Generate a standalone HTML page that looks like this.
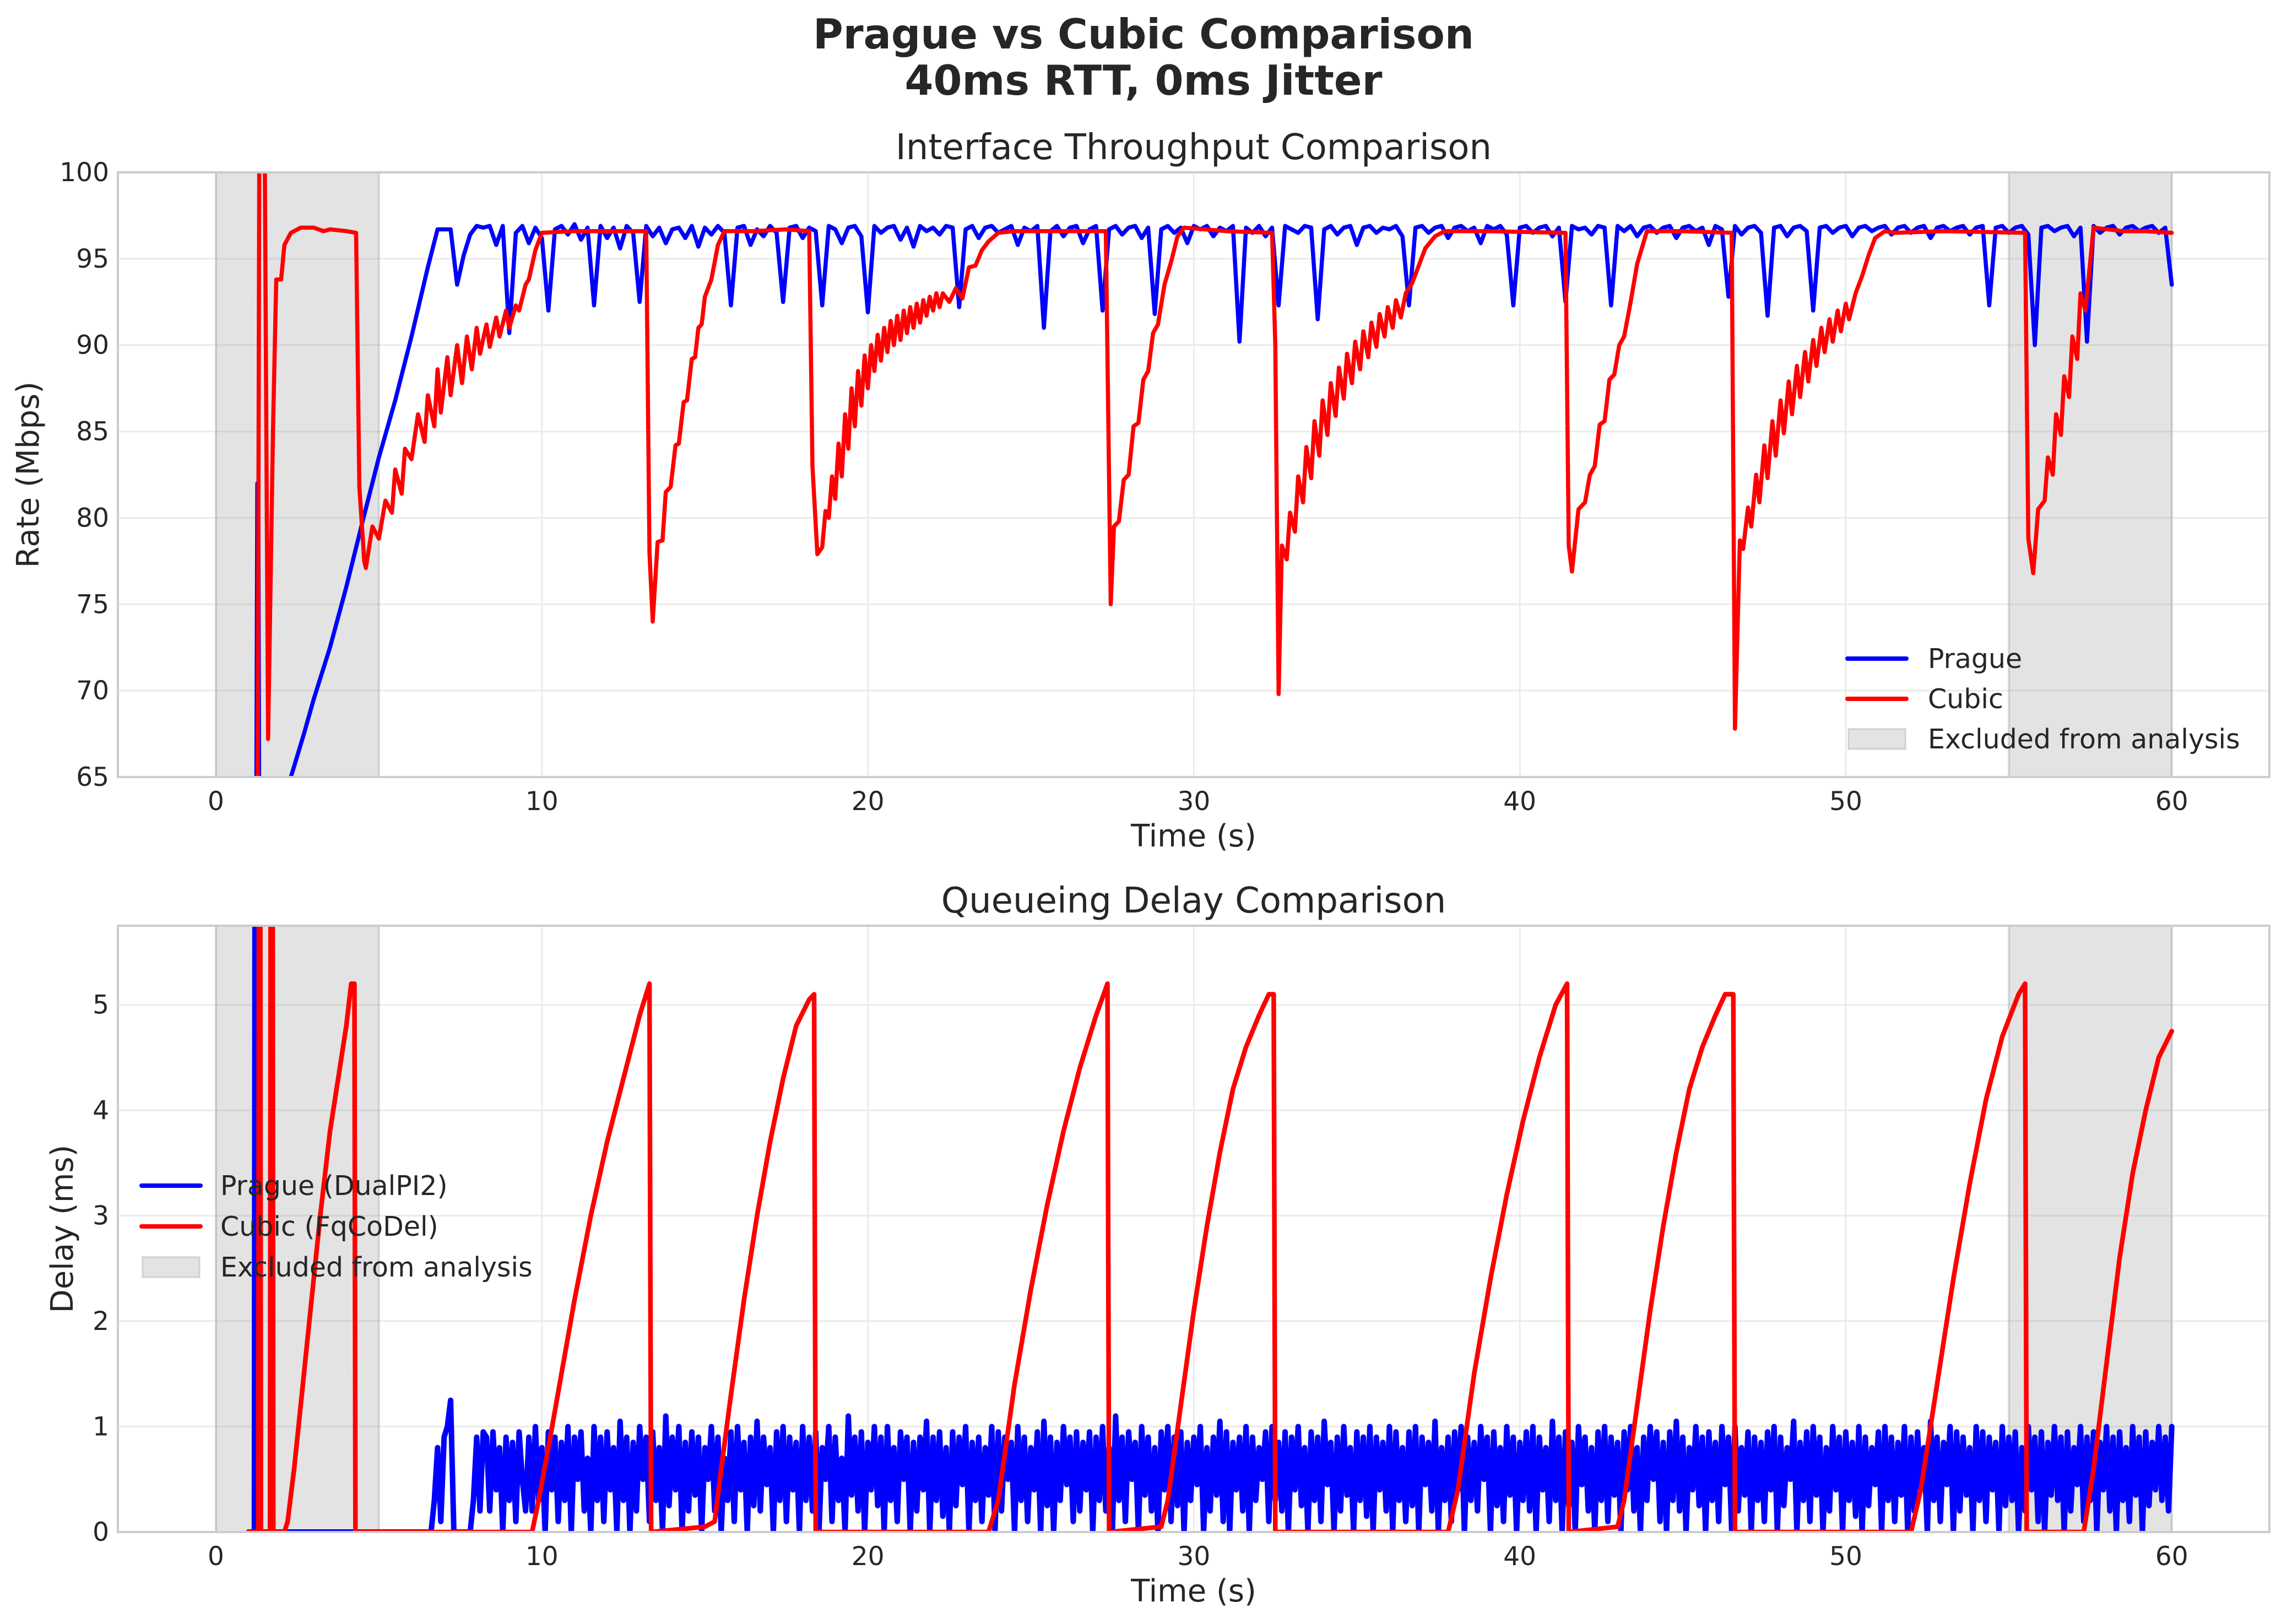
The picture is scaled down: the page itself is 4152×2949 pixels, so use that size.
<!DOCTYPE html>
<html><head><meta charset="utf-8"><title>Prague vs Cubic Comparison</title>
<style>
html,body{margin:0;padding:0;background:#fff;}
svg{display:block;font-family:"DejaVu Sans","Liberation Sans",sans-serif;}
</style></head>
<body>
<svg id="fig" width="4152" height="2949" viewBox="0 0 4152 2949" xmlns="http://www.w3.org/2000/svg">
<defs>
<clipPath id="clipTop"><rect x="214" y="313" width="3906" height="1098"/></clipPath>
<clipPath id="clipBot"><rect x="214" y="1681" width="3906" height="1101"/></clipPath>
</defs>
<text x="2076" y="88" text-anchor="middle" font-size="75" font-weight="bold" fill="#262626" textLength="1200" lengthAdjust="spacingAndGlyphs">Prague vs Cubic Comparison</text>
<text x="2076" y="172" text-anchor="middle" font-size="75" font-weight="bold" fill="#262626" textLength="867" lengthAdjust="spacingAndGlyphs">40ms RTT, 0ms Jitter</text>
<g id="top"></g>
<g id="bot"></g>
</svg>
<script>
// ---------- DATA ----------
const xTicks = [0,10,20,30,40,50,60];
const rateTicks = [65,70,75,80,85,90,95,100];
const delayTicks = [0,1,2,3,4,5];
const excludedStart = [0,55];
const excludedEnd = [5,60];

// Prague throughput: early ramp points
const pragueRampT = [1.2,1.27,1.3,1.36,2.3,2.7,3.0,3.5,4.0,4.5,5.0,5.5,6.0,6.5,6.8,7.0];
const pragueRampV = [40,82,82,40,65,67.5,69.5,72.5,76,79.8,83.5,86.8,90.5,94.5,96.7,96.7];
// Prague throughput sampled every 0.2s starting at 7.2s
const pragueRateStart = 7.2;
const pragueRateStep = 0.2;
const pragueRate = [
96.7,93.5,95.2,96.4,96.9, 96.8,96.9,95.8,96.9,90.7, 96.5,96.9,95.9,96.8,96.2, 92.0,96.7,96.9,96.4,97.0,
96.1,96.8,92.3,96.9,96.2, 96.8,95.6,96.9,96.5,92.5, 96.9,96.3,96.8,95.9,96.7, 96.8,96.2,96.9,95.7,96.8,
96.4,96.9,96.5,92.3,96.8, 96.9,95.8,96.7,96.3,96.9, 96.5,92.5,96.8,96.9,96.2, 96.8,96.6,92.3,96.9,96.7,
95.9,96.8,96.9,96.3,91.9, 96.9,96.5,96.8,96.9,96.1, 96.8,95.7,96.9,96.6,96.8, 96.4,96.9,96.8,92.2,96.7,
96.9,96.2,96.8,96.9,96.5, 96.7,96.9,95.8,96.8,96.6, 96.9,91.0,96.6,96.9,96.3, 96.8,96.9,95.9,96.7,96.9,
92.0,96.7,96.9,96.4,96.8, 96.9,96.2,96.8,91.8,96.7, 96.9,96.5,96.8,95.9,96.9, 96.7,96.9,96.3,96.8,96.6,
96.9,90.2,96.8,96.5,96.9, 96.3,96.8,92.3,96.9,96.7, 96.5,96.9,96.8,91.5,96.7, 96.9,96.4,96.8,96.9,95.8,
96.8,96.9,96.5,96.8,96.7, 96.9,96.3,92.3,96.8,96.9, 96.5,96.8,96.9,96.2,96.8, 96.9,96.6,96.8,95.9,96.9,
96.7,96.9,96.4,92.3,96.8, 96.9,96.5,96.8,96.9,96.3, 96.8,92.5,96.9,96.7,96.8, 96.4,96.9,96.8,92.3,96.9,
96.6,96.9,96.3,96.8,96.9, 96.5,96.8,96.9,96.2,96.8, 96.9,96.6,96.8,95.8,96.9, 96.7,92.8,96.9,96.4,96.8,
96.9,96.5,91.7,96.8,96.9, 96.3,96.8,96.9,96.6,92.0, 96.8,96.9,96.5,96.8,96.9, 96.3,96.8,96.9,96.6,96.8,
96.9,96.4,96.8,96.9,96.5, 96.8,96.9,96.2,96.8,96.9, 96.6,96.8,96.9,96.4,96.8, 96.9,92.3,96.8,96.9,96.5,
96.8,96.9,96.4,90.0,96.8, 96.9,96.6,96.8,96.9,96.3, 96.8,90.2,96.9,96.5,96.8, 96.9,96.4,96.8,96.9,96.6,
96.8,96.9,96.5,96.8,93.5];

// Cubic throughput (time, value)
const cubicRateT = [1.25,1.33,1.4,1.5,1.6,1.75,1.85,2.0,2.1,2.3,2.6,3.0,3.3,3.5,4.0,4.3,4.4,4.55,4.6,
4.8,5.0,5.2,5.4,5.5,5.7,5.8,6.0,6.2,6.4,6.5,6.7,6.8,6.9,7.1,7.2,7.4,7.55,7.7,7.85,8.0,8.1,8.3,8.4,8.6,8.7,8.9,9.0,9.2,9.3,9.5,9.6,9.8,10.0,
11,12,13.2,13.3,13.4,13.55,13.7,13.8,13.95,14.1,14.2,14.35,14.45,14.6,14.7,14.8,14.9,15.0,15.2,15.4,15.6,16.5,17.5,18.2,
18.3,18.45,18.6,18.7,18.8,18.9,19.0,19.1,19.2,19.3,19.4,19.5,19.6,19.7,19.8,19.9,20.0,20.1,20.2,20.3,20.4,20.5,20.6,20.7,20.8,20.9,21.0,21.1,21.2,21.3,21.4,21.5,21.6,21.7,21.8,21.9,22.0,22.1,22.2,22.3,22.5,22.7,22.9,23.1,23.3,23.5,23.7,24.0,24.5,
26,27.3,27.45,27.55,27.7,27.85,28.0,28.15,28.3,28.45,28.6,28.75,28.9,29.1,29.3,29.5,29.7,31,32.4,
32.5,32.6,32.7,32.85,32.95,33.1,33.2,33.35,33.45,33.6,33.7,33.85,33.95,34.1,34.2,34.35,34.45,34.6,34.7,34.85,34.95,35.1,35.2,35.35,35.45,35.6,35.7,35.85,35.95,36.1,36.2,36.35,36.5,36.7,36.9,37.1,37.4,37.7,
39,41.4,41.5,41.6,41.8,42.0,42.15,42.3,42.45,42.6,42.75,42.9,43.05,43.2,43.4,43.6,43.9,45,46.5,
46.6,46.75,46.85,47.0,47.1,47.25,47.35,47.5,47.6,47.75,47.85,48.0,48.1,48.25,48.35,48.5,48.6,48.75,48.85,49.0,49.1,49.25,49.35,49.5,49.6,49.75,49.85,50.0,50.1,50.3,50.5,50.7,50.9,51.2,51.5,
53,55.5,55.6,55.75,55.9,56.1,56.2,56.35,56.45,56.6,56.7,56.85,56.95,57.1,57.2,57.35,57.6,58.5,59.2,60];
const cubicRateV = [40,100.5,100.5,100.5,67.2,85,93.8,93.8,95.8,96.5,96.8,96.8,96.6,96.7,96.6,96.5,81.8,77.5,77.1,
79.5,78.8,81,80.3,82.8,81.4,84,83.4,86,84.4,87.1,85.3,88.6,86.1,89.3,87.1,90,87.8,90.5,88.6,91,89.5,91.2,89.9,91.6,90.5,92,91,92.3,92,93.5,93.8,95.5,96.5,
96.6,96.6,96.6,78,74,78.6,78.7,81.5,81.8,84.2,84.3,86.7,86.8,89.2,89.3,91,91.2,92.8,93.8,95.8,96.6,96.6,96.7,96.6,
83,77.9,78.3,80.4,80.0,82.4,81.1,84.3,82.4,86.0,84.0,87.5,85.3,88.5,86.5,89.4,87.5,90.0,88.5,90.6,89.1,91.0,89.6,91.4,90.0,91.7,90.3,92.0,90.7,92.2,91.0,92.4,91.3,92.6,91.7,92.8,92.0,93.0,92.2,93.0,92.5,93.3,92.7,94.5,94.6,95.5,96.0,96.5,96.6,
96.6,96.6,75.0,79.5,79.8,82.2,82.5,85.3,85.5,88.0,88.5,90.7,91.2,93.5,94.8,96.3,96.8,96.6,96.5,
90,69.8,78.4,77.6,80.3,79.2,82.4,80.9,84.1,82.3,85.6,83.6,86.8,84.8,87.8,85.9,88.7,86.9,89.5,87.8,90.2,88.6,90.8,89.3,91.3,89.9,91.8,90.5,92.2,91.0,92.6,91.6,93.0,93.6,94.6,95.6,96.3,96.6,
96.6,96.5,78.4,76.9,80.5,80.9,82.5,83.0,85.4,85.6,88.0,88.3,90.0,90.5,92.5,94.7,96.6,96.6,96.5,
67.8,78.7,78.2,80.6,79.5,82.5,80.9,84.2,82.3,85.6,83.6,86.8,84.9,87.9,86.0,88.8,87.0,89.6,87.9,90.3,88.8,91.0,89.6,91.5,90.2,92.0,90.8,92.4,91.5,93.0,94.0,95.2,96.2,96.6,96.5,
96.6,96.5,78.8,76.8,80.5,81.0,83.5,82.5,86.0,84.8,88.2,87.0,90.5,89.2,93.0,92.0,96.8,96.6,96.6,96.5];

// Prague delay sampled every 0.1s starting at 6.6s
const pragueDelayStart = 6.6;
const pragueDelayStep = 0.1;
const pragueDelay = [
0,0.3,0.8,0.1,0.9,1.0,1.25,0,0,0,
0,0,0,0.3,0.9,0.2,0.95,0.9,0.2,0.95,
0.4,0.8,0,0.9,0.3,0.85,0.1,0.95,0.5,0.2,
0.9,0.2,1.0,0.3,0.8,0,0.95,0.4,0.9,0.1,
0.85,0.3,1.0,0,0.9,0.5,0.95,0.2,0.7,0,
1.0,0.3,0.9,0.1,0.95,0.4,0.8,0,1.05,0.3,
0.9,0,0.85,0.2,1.0,0.5,0.9,0.1,0.95,0.3,
0.8,0,1.1,0.25,0.9,0.4,1.0,0,0.85,0.2,
0.95,0.35,0.9,0,0.8,0.5,1.0,0.2,0.9,0,
0.7,0.3,0.95,0.1,1.0,0.4,0.85,0,0.9,0.25,
1.05,0.2,0.9,0.45,0.8,0,0.95,0.3,1.0,0.1,
0.9,0.4,0.85,0,1.0,0.3,0.9,0.2,0.95,0,
0.8,0.5,1.0,0.1,0.9,0.3,0.7,0,1.1,0.35,
0.9,0.2,0.95,0,0.85,0.4,1.0,0.25,0.9,0,
1.0,0.3,0.8,0.1,0.95,0.5,0.9,0,0.85,0.2,
0.9,0.4,1.05,0,0.9,0.3,0.95,0.15,0.8,0,
0.95,0.25,0.9,0.45,1.0,0,0.85,0.3,0.9,0.1,
0.8,0.35,1.0,0,0.95,0.2,0.9,0.5,0.85,0,
1.0,0.3,0.9,0.1,0.8,0.4,0.95,0,1.05,0.25,
0.9,0,0.85,0.3,1.0,0.45,0.9,0.1,0.95,0.2,
0.85,0.4,0.95,0,0.9,0.3,1.0,0.2,0.8,0,
1.1,0.3,0.9,0.1,0.95,0.5,0.85,0,1.0,0.35,
0.9,0.2,0.8,0,0.95,0.4,1.0,0.1,0.9,0.25,
0.95,0,0.85,0.3,0.9,0.45,1.0,0,0.8,0.2,
0.9,0.35,1.05,0.1,0.95,0,0.85,0.4,0.9,0.2,
1.0,0,0.9,0.3,0.8,0.5,0.95,0.1,1.0,0.3,
0.85,0.2,0.95,0,0.9,0.4,1.0,0.25,0.8,0,
0.95,0.3,0.9,0.1,1.05,0.45,0.85,0,0.9,0.2,
1.0,0.35,0.8,0,0.95,0.3,0.9,0.15,1.0,0,
0.9,0.4,0.85,0.2,1.0,0,0.95,0.3,0.8,0.1,
0.95,0.25,1.0,0,0.9,0.45,0.85,0.2,1.05,0,
0.8,0.3,0.9,0.1,0.95,0.4,1.0,0,0.9,0.3,
0.85,0.2,1.0,0.5,0.9,0,0.95,0.25,0.8,0.1,
1.0,0.35,0.9,0,0.85,0.3,0.95,0.2,1.0,0,
0.9,0.4,0.8,0.1,1.05,0.3,0.9,0,0.95,0.25,
0.85,0,1.0,0.45,0.9,0.2,0.8,0,0.95,0.3,
1.0,0.1,0.9,0.35,0.85,0,0.95,0.4,1.0,0.2,
0.8,0,0.9,0.3,1.0,0.5,0.95,0.1,0.85,0,
0.95,0.3,1.05,0.2,0.9,0,0.8,0.4,1.0,0.25,
0.9,0,0.95,0.3,0.85,0.1,1.0,0.45,0.9,0,
1.0,0.2,0.8,0.35,0.95,0,0.9,0.3,0.85,0.1,
0.95,0.4,1.0,0,0.9,0.25,0.8,0.5,1.05,0,
0.85,0.3,0.95,0.1,1.0,0.35,0.9,0,0.8,0.2,
1.0,0.4,0.9,0,0.95,0.3,0.85,0.15,1.0,0,
0.9,0.25,0.8,0.45,0.95,0,1.0,0.3,0.9,0.1,
0.85,0.35,1.0,0,0.9,0.2,0.95,0.4,0.8,0,
1.05,0.3,0.9,0.1,0.85,0.45,1.0,0,0.95,0.2,
0.9,0.35,0.8,0,1.0,0.3,0.95,0.1,0.9,0.4,
0.85,0,1.0,0.25,0.9,0.3,0.95,0,0.8,0.2,
1.0,0.4,0.9,0.1,0.95,0,0.85,0.35,1.0,0.3,
0.9,0,0.95,0.2,0.8,0.45,1.0,0.1,0.9,0.3,
0.95,0,0.85,0.4,1.0,0.2,0.9,0,0.95,0.3,
0.8,0.1,1.0,0.35,0.9,0,0.95,0.25,0.85,0.4,
1.0,0.3,0.9,0.2,1.0];

// Cubic delay (time, value)
const cubicDelayT = [1.0,1.3,1.32,1.36,1.38,1.66,1.68,1.74,1.76,2.1,2.2,2.4,2.6,2.9,3.2,3.5,3.8,4.0,4.15,4.25,4.28,
9.7,9.9,10.2,10.6,11.0,11.5,12.0,12.5,13.0,13.3,13.35,15.0,15.3,15.5,15.8,16.2,16.6,17.0,17.4,17.8,18.2,18.35,18.4,
23.7,24.0,24.5,25.0,25.5,26.0,26.5,27.0,27.35,27.4,29.0,29.2,29.6,30.0,30.4,30.8,31.2,31.6,32.0,32.3,32.45,32.5,
37.8,38.1,38.6,39.1,39.6,40.1,40.6,41.1,41.45,41.5,43.0,43.2,43.6,44.0,44.4,44.8,45.2,45.6,46.0,46.3,46.55,46.6,
52.0,52.3,52.8,53.3,53.8,54.3,54.8,55.3,55.5,55.55,57.3,57.6,58.0,58.4,58.8,59.2,59.6,60.0];
const cubicDelayV = [0,0,6.5,6.5,0,0,6.5,6.5,0,0,0.1,0.6,1.2,2.1,3.0,3.8,4.4,4.8,5.2,5.2,0,
0,0.3,0.8,1.5,2.2,3.0,3.7,4.3,4.9,5.2,0,0.05,0.1,0.6,1.3,2.2,3.0,3.7,4.3,4.8,5.05,5.1,0,
0,0.3,1.4,2.3,3.1,3.8,4.4,4.9,5.2,0,0.05,0.3,1.2,2.1,2.9,3.6,4.2,4.6,4.9,5.1,5.1,0,
0,0.4,1.5,2.4,3.2,3.9,4.5,5.0,5.2,0,0.05,0.3,1.2,2.1,2.9,3.6,4.2,4.6,4.9,5.1,5.1,0,
0,0.4,1.4,2.4,3.3,4.1,4.7,5.1,5.2,0,0,0.6,1.6,2.6,3.4,4.0,4.5,4.75];
// Prague delay start spike
const pragueSpikeT = [1.0,1.18,1.2,1.22,1.24,4.3];
const pragueSpikeV = [0,0,6.5,6.5,0,0];

// ---------- GEOMETRY ----------
const NS = "http://www.w3.org/2000/svg";
const L = 214, R = 4120;
const X0 = 392, PX_PER_S = 59.18;
const xs = t => X0 + t * PX_PER_S;
const TT = 313, TB = 1411;
const ysTop = v => TB - (v - 65) * (TB - TT) / 35;
const BT = 1681, BB = 2782;
const ysBot = d => BB - d * (BB - BT) / 5.75;

function el(tag, attrs, parent) {
  const e = document.createElementNS(NS, tag);
  for (const k in attrs) e.setAttribute(k, attrs[k]);
  parent.appendChild(e);
  return e;
}
function txt(str, attrs, parent) {
  const e = el("text", attrs, parent);
  e.textContent = str;
  return e;
}
function pathFrom(ts, vs, ys) {
  let d = "";
  for (let i = 0; i < ts.length; i++) d += (i ? "L" : "M") + xs(ts[i]).toFixed(1) + "," + ys(vs[i]).toFixed(1);
  return d;
}
function seqTimes(start, step, n) {
  const out = [];
  for (let i = 0; i < n; i++) out.push(start + i * step);
  return out;
}

function axes(g, T, B, ys, yTicks, clipId, title, ylabel, ylabelX) {
  el("rect", {x: L, y: T, width: R - L, height: B - T, fill: "#fff"}, g);
  for (const yv of yTicks) {
    const gl = el("line", {x1: L, x2: R, y1: ys(yv), y2: ys(yv), stroke: "#ebebeb", "stroke-width": 3}, g);
    
    
  }
  for (const xv of xTicks) {
    const gl = el("line", {x1: xs(xv), x2: xs(xv), y1: T, y2: B, stroke: "#ebebeb", "stroke-width": 3}, g);
    
    
  }
  for (let i = 0; i < excludedStart.length; i++) {
    const r = el("rect", {x: xs(excludedStart[i]), y: T, width: xs(excludedEnd[i]) - xs(excludedStart[i]), height: B - T, fill: "#808080", "fill-opacity": 0.22, stroke: "#808080", "stroke-opacity": 0.25, "stroke-width": 4}, g);
    
    
  }
  for (const yv of yTicks) {
    const t = txt(String(yv), {x: 198, y: ys(yv) + 16, "text-anchor": "end", "font-size": 47, fill: "#262626"}, g);
    
    
  }
  for (const xv of xTicks) {
    const t = txt(String(xv), {x: xs(xv), y: B + 60, "text-anchor": "middle", "font-size": 47, fill: "#262626"}, g);
    
    
  }
  const tt = txt(title, {x: (L + R) / 2, y: T - 24, "text-anchor": "middle", "font-size": 64, fill: "#262626"}, g);
  
  
  const xl = txt("Time (s)", {x: (L + R) / 2, y: B + 126, "text-anchor": "middle", "font-size": 56, fill: "#262626"}, g);
  
  
  const yl = txt(ylabel, {x: ylabelX, y: (T + B) / 2, "text-anchor": "middle", "font-size": 56, fill: "#262626", transform: `rotate(-90 ${ylabelX} ${(T + B) / 2})`}, g);
  
  
  const plot = el("g", {"clip-path": `url(#${clipId})`}, g);
  return plot;
}
function frame(g, T, B) {
  const f = el("rect", {x: L, y: T, width: R - L, height: B - T, fill: "none", stroke: "#cccccc", "stroke-width": 4}, g);
  
  
}
function series(plot, d, color, w) {
  return el("path", {d: d, fill: "none", stroke: color, "stroke-width": w, "stroke-linejoin": "round", "stroke-linecap": "round"}, plot);
}
function legend(g, x, ys, labels, textX) {
  const colors = ["#0000ff", "#ff0000"];
  for (let i = 0; i < 2; i++) {
    const ln = el("line", {x1: x, x2: x + 107, y1: ys[i], y2: ys[i], stroke: colors[i], "stroke-width": 8, "stroke-linecap": "round"}, g);
    
    
  }
  const sw = el("rect", {x: x + 2, y: ys[2] - 18, width: 103, height: 36, fill: "#e3e3e3", stroke: "#d0d0d0", "stroke-width": 3}, g);
  
  
  for (let i = 0; i < 3; i++) {
    const t = txt(labels[i], {x: textX, y: ys[i] + 17, "font-size": 49, fill: "#262626"}, g);
    
    
  }
}

// ---------- TOP CHART ----------
const gTop = document.getElementById("top");
const pTop = axes(gTop, TT, TB, ysTop, rateTicks, "clipTop", "Interface Throughput Comparison", "Rate (Mbps)", 70);
const pragueT = pragueRampT.concat(seqTimes(pragueRateStart, pragueRateStep, pragueRate.length));
const pragueV = pragueRampV.concat(pragueRate);
const s1 = series(pTop, pathFrom(pragueT, pragueV, ysTop), "#0000ff", 7.5);


const s2 = series(pTop, pathFrom(cubicRateT, cubicRateV, ysTop), "#ff0000", 7.5);


frame(gTop, TT, TB);
legend(gTop, 3354, [1196, 1269, 1342], ["Prague", "Cubic", "Excluded from analysis"], 3500);

// ---------- BOTTOM CHART ----------
const gBot = document.getElementById("bot");
const pBot = axes(gBot, BT, BB, ysBot, delayTicks, "clipBot", "Queueing Delay Comparison", "Delay (ms)", 132);
const pdT = pragueSpikeT.concat(seqTimes(pragueDelayStart, pragueDelayStep, pragueDelay.length));
const pdV = pragueSpikeV.concat(pragueDelay);
const s3 = series(pBot, pathFrom(pdT, pdV, ysBot), "#0000ff", 10);


const s4 = series(pBot, pathFrom(cubicDelayT, cubicDelayV, ysBot), "#ff0000", 8.5);


frame(gBot, BT, BB);
legend(gBot, 257, [2153, 2227, 2301], ["Prague (DualPI2)", "Cubic (FqCoDel)", "Excluded from analysis"], 400);
</script>
</body></html>
